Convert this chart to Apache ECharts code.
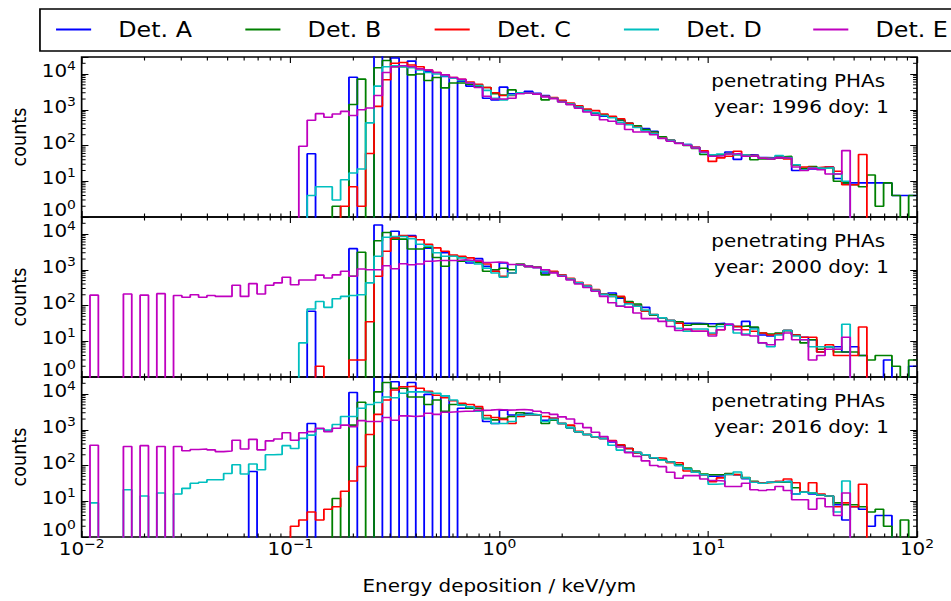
<!DOCTYPE html>
<html>
<head>
<meta charset="utf-8">
<script src="https://cdn.jsdelivr.net/npm/echarts@6/dist/echarts.min.js"></script>
<style>
html,body{margin:0;padding:0;background:#fff;overflow:hidden;width:951px;height:601px}
#chart{width:840px;height:601px;transform:scaleX(1.132143);transform-origin:0 0}
</style>
</head>
<body>
<div id="chart"></div>
<script>
// ---------------- data ----------------
const DETECTORS = ['Det. A', 'Det. B', 'Det. C', 'Det. D', 'Det. E'];
const COLORS = ['#0000ff', '#008000', '#ff0000', '#00bfbf', '#bf00bf'];
const YEARS = [1996, 2000, 2016];
const X_MIN = 0.01, X_MAX = 100;      // energy range (keV/ym)
const Y_MIN = 1, Y_MAX = 30000;       // counts range
const BINS_PER_DECADE = 25;           // log-spaced histogram bins
const X_LABEL = 'Energy deposition / keV/ym';
const Y_LABEL = 'counts';

// counts per bin, starting at bin index *_start (bins before are empty)
const y1996_A_start = 27;
const y1996_A = [59,0,0,0,0,8100,0,0,40000,0,28000,0,23000,0,12000,0,8500,0,6300,4600,4500,2100,1900,4300,2800,3000,3300,2900,2500,2100,1700,1450,1200,950,800,660,630,520,420,330,300,250,165,140,118,107,89,66,55,56,66,41,55,54,46,45,45,45,20,21,22,22,25,12,9,9,9,9,9,9,4,4,4];
const y1996_B_start = 30;
const y1996_B = [2,0,1400,7200,0,15000,24000,16000,16000,9500,10000,6600,8000,4100,5600,5600,5200,4600,4200,2800,2600,3600,3000,3000,2750,1900,2100,1700,1450,1200,1000,830,720,630,520,420,355,280,240,175,140,120,100,83,56,52,55,60,55,54,40,42,42,48,50,28,23,26,22,24,10,9,8,7,15,2,9,4,0,4];
const y1996_C_start = 31;
const y1996_C = [2,7,2,60,1250,6900,20000,21000,18000,16000,13000,11000,9500,8000,7100,6000,5200,4200,3000,2500,2500,3000,3000,2750,2400,2200,1850,1550,1300,1050,950,760,660,560,420,330,260,220,165,138,120,105,89,71,36,45,50,69,55,52,45,43,46,42,29,25,24,25,25,19,8,8,56];
const y1996_D_start = 27;
const y1996_D = [4,7,7,3,11,17,22,430,4600,16000,17000,16000,15000,13000,11000,10000,8900,7600,6600,5600,4800,3500,2100,1900,2600,3000,3000,2750,2350,2100,1700,1450,1200,950,830,690,600,450,380,320,260,215,160,138,118,107,87,63,55,58,58,55,54,50,44,44,52,46,29,21,24,23,24,16,10];
const y1996_E_start = 26;
const y1996_E = [95,510,780,620,760,900,690,1000,1120,2500,11000,16000,17000,16000,14000,13000,11000,9500,8000,7100,5600,4200,2400,2000,2000,2100,2800,2950,2750,2300,2050,1650,1380,1100,870,710,525,480,400,280,240,240,200,158,132,115,102,85,66,50,52,58,60,50,50,44,42,46,44,25,20,23,21,16,16,72];

const y2000_A_start = 27;
const y2000_A = [69,0,0,0,0,3900,0,0,18000,0,12000,0,9100,0,4000,0,3000,0,1740,1550,2050,1250,1000,1550,810,1380,1250,1180,810,870,690,550,430,350,260,205,225,160,118,102,89,54,45,38,32,32,32,31,31,32,30,26,36,24,15,14,16,20,15,13,11,5,7,7,5,7,4,0,0,3,0,0,2];
const y2000_B_start = 32;
const y2000_B = [660,3100,0,6500,11000,7200,7200,3800,3800,4300,2200,1260,2400,1740,1740,1600,910,1000,1100,1000,1450,1250,1180,720,870,690,560,430,350,265,210,200,170,130,110,70,54,45,38,35,28,30,30,26,30,28,26,27,25,17,16,17,20,15,9,11,6,7,5,5,5,4,3,4,4,2,0,3];
const y2000_C_start = 28;
const y2000_C = [2,0,0,0,3,3,35,660,3300,7800,9100,8500,6900,5200,4100,3300,2600,2400,2150,1740,1450,910,660,810,1380,1250,1180,1000,900,720,580,450,370,280,210,180,180,120,96,70,56,45,38,32,21,19,19,16,21,29,26,21,19,17,15,16,20,15,13,13,5,8,4,4,4,25];
const y2000_D_start = 26;
const y2000_D = [9,80,130,89,155,180,190,200,430,2400,8100,8500,8500,7400,5200,4600,3000,2400,2400,2150,1740,1450,1100,810,620,810,1380,1250,1150,900,840,690,550,430,350,265,205,180,96,110,95,75,56,45,38,23,19,22,22,17,26,28,17,16,22,9,7,15,20,14,11,7,7,7,6,30];
const y2000_E_start = 1;
const y2000_E = [195,0,0,0,210,0,195,0,215,0,190,170,200,170,190,180,180,370,180,410,210,370,430,620,380,520,520,710,590,720,910,660,1050,1000,1000,1300,1070,1480,1380,1450,1740,1820,1820,1820,1900,1820,1820,1600,1650,1600,1400,1400,1250,1150,1000,820,660,520,400,320,250,180,120,95,90,62,43,43,36,26,20,22,19,19,14,21,30,21,15,14,9,8,11,17,11,11,3,4,6,6,13];

const y2016_A_start = 20;
const y2016_A = [68,0,0,0,0,0,0,1500,0,0,0,0,11000,0,0,40000,0,22000,0,21000,0,9800,0,9000,0,4000,4000,4000,1700,1500,3550,2600,2700,2900,2600,1850,2100,1500,1150,880,740,640,570,460,370,300,230,200,160,140,125,100,81,65,55,50,52,58,55,43,34,32,34,35,36,16,18,16,15,14,8,3,7,6,2,4,4,0,0,0];
const y2016_B_start = 30;
const y2016_B = [12,0,1350,5900,0,11500,21000,14500,14500,8300,8300,5100,6800,3300,5100,4900,4000,3900,2100,1900,2100,2350,3000,2700,2600,1500,1850,1500,1150,880,740,640,570,480,380,300,230,200,165,145,125,105,85,70,58,55,56,60,56,46,36,33,34,34,35,24,18,17,15,14,9,8,8,7,5,6,2,0,3,0];
const y2016_C_start = 25;
const y2016_C = [2,3,5,3,6,7,19,37,94,740,2700,6800,13000,16000,16500,14500,12000,9300,7900,6500,5500,5100,4500,2500,2200,1950,1500,2350,2600,2600,2350,2100,1500,1350,900,740,640,570,500,380,300,230,200,165,160,120,120,70,65,55,35,45,56,55,45,35,33,34,36,42,33,18,33,16,14,7,9,7,30];
const y2016_D_start = 1;
const y2016_D = [9,0,0,0,21,0,14,0,17,0,16,23,32,34,40,40,60,105,58,110,76,200,205,360,300,575,710,1050,980,1400,2350,2350,4000,5100,5800,8300,7900,10500,11500,11500,11000,10500,8900,6800,4900,4400,3300,2000,1500,1500,1700,2600,2700,2600,1700,1950,1500,1150,880,740,640,570,370,270,240,230,200,165,140,125,100,80,65,55,30,31,56,66,45,34,32,34,35,36,16,18,17,15,14,5,37];
const y2016_E_start = 1;
const y2016_E = [370,0,0,0,340,0,360,0,340,0,340,260,280,290,275,245,255,510,290,540,275,490,550,830,510,830,890,1100,890,1100,1350,1230,1800,1700,1700,2200,1850,2450,2350,2450,2900,2700,3100,3200,3300,3300,3500,3550,3700,3550,3600,3700,3550,3300,3000,2700,2300,2000,1500,1150,850,650,480,330,230,180,135,100,93,65,44,52,52,42,38,37,26,26,32,21,20,21,26,20,11,11,6,12,7,4,17];

const PANELS = [
  {year: 1996, sets: [[y1996_A_start, y1996_A],[y1996_B_start, y1996_B],[y1996_C_start, y1996_C],[y1996_D_start, y1996_D],[y1996_E_start, y1996_E]]},
  {year: 2000, sets: [[y2000_A_start, y2000_A],[y2000_B_start, y2000_B],[y2000_C_start, y2000_C],[y2000_D_start, y2000_D],[y2000_E_start, y2000_E]]},
  {year: 2016, sets: [[y2016_A_start, y2016_A],[y2016_B_start, y2016_B],[y2016_C_start, y2016_C],[y2016_D_start, y2016_D],[y2016_E_start, y2016_E]]}
];

// ---------------- layout ----------------
const FONT = 'DejaVu Sans';
const SX = 951 / 840;                  // reference is horizontally stretched
const GRID_LEFT = 79.5 / SX;
const GRID_RIGHT = 840 - 917 / SX;
const GRID_TOPS = [57, 217, 377];
const GRID_H = 160;
const FLOOR = 1e-3;                    // empty bins drawn below the axis (clipped)

const dLo = Math.log10(X_MIN), dHi = Math.log10(X_MAX);
const NBINS = Math.round((dHi - dLo) * BINS_PER_DECADE);
const edges = [];
for (let i = 0; i <= NBINS; i++) edges.push(Math.pow(10, dLo + i / BINS_PER_DECADE));

function toSteps(start, counts) {
  const full = new Array(NBINS).fill(0);
  counts.forEach((c, k) => { if (start + k < NBINS) full[start + k] = c; });
  const pts = full.map((c, i) => [edges[i], c > 0 ? c : FLOOR]);
  pts.push([edges[NBINS], full[NBINS - 1] > 0 ? full[NBINS - 1] : FLOOR]);
  return pts;
}

function expOf(v) {
  const e = Math.log10(v), r = Math.round(e);
  return Math.abs(e - r) > 1e-6 ? null : r;
}
function xLabel(v) {
  const r = expOf(v);
  if (r === null) return '';
  return '{b|10}{s|' + (r < 0 ? '\u2212' + (-r) : '' + r) + '}';
}
function yLabel(v) {
  const r = expOf(v);
  if (r === null) return '';
  // the lowest label sits a little higher so it clears the panel below
  return r === 0 ? '{b0|10}{s0|0}' : '{b|10}{s|' + r + '}';
}
const RICH = {
  b: {fontSize: 17.6, fontFamily: FONT, color: '#000', verticalAlign: 'bottom', lineHeight: 12},
  s: {fontSize: 12.3, fontFamily: FONT, color: '#000', verticalAlign: 'bottom', lineHeight: 9, padding: [0, 0, 8, 0]},
  b0: {fontSize: 17.6, fontFamily: FONT, color: '#000', verticalAlign: 'bottom', lineHeight: 12, padding: [0, 0, 4, 0]},
  s0: {fontSize: 12.3, fontFamily: FONT, color: '#000', verticalAlign: 'bottom', lineHeight: 9, padding: [0, 0, 12, 0]}
};

const xAxes = [], yAxes = [], grids = [], series = [], graphics = [];
GRID_TOPS.forEach((t, g) => {
  grids.push({left: GRID_LEFT, right: GRID_RIGHT, top: t, height: GRID_H, show: true,
    borderColor: '#000', borderWidth: 1.5, backgroundColor: 'transparent'});
});
const tick = {inside: true, length: 6, lineStyle: {color: '#000', width: 1}};
for (let k = 0; k < 2; k++) {
  GRID_TOPS.forEach((t, g) => {
    const main = k === 0;
    const showLab = main && g === 2;
    xAxes.push({type: 'log', logBase: 10, gridIndex: g, position: main ? 'bottom' : 'top',
      min: X_MIN, max: X_MAX, axisLine: {show: false}, splitLine: {show: false}, axisTick: tick,
      axisLabel: {show: showLab, margin: 9, formatter: xLabel, rich: RICH},
      name: showLab ? X_LABEL : '', nameLocation: 'middle', nameGap: 40,
      nameTextStyle: {fontSize: 17.6, fontFamily: FONT, color: '#000'}});
    yAxes.push({type: 'log', logBase: 10, gridIndex: g, position: main ? 'left' : 'right',
      min: Y_MIN, max: Y_MAX, axisLine: {show: false}, splitLine: {show: false}, axisTick: tick,
      axisLabel: {show: main, margin: 5, formatter: yLabel, rich: RICH, align: 'right'},
      name: main ? Y_LABEL : '', nameLocation: 'middle', nameGap: 41, nameRotate: 90,
      nameTextStyle: {fontSize: 17.6, fontFamily: FONT, color: '#000'}});
  });
}

// minor tick positions (2..9 x 10^n)
const minorData = [];
for (let e = Math.round(dLo); e < Math.round(dHi); e++)
  for (let m = 2; m <= 9; m++) minorData.push([m * Math.pow(10, e), 1, 0]);
for (let e = 0; e <= 4; e++)
  for (let m = 2; m <= 9; m++) { const v = m * Math.pow(10, e); if (v < Y_MAX) minorData.push([1, v, 1]); }

PANELS.forEach((p, g) => {
  p.sets.forEach(([start, counts], d) => {
    series.push({type: 'line', name: DETECTORS[d], xAxisIndex: g, yAxisIndex: g,
      step: 'end', symbol: 'none', showSymbol: false, clip: true, animation: false,
      lineStyle: {color: COLORS[d], width: 1.6}, itemStyle: {color: COLORS[d]},
      emphasis: {disabled: true}, data: toSteps(start, counts), z: 2 + d * 0.01});
  });
  series.push({type: 'custom', xAxisIndex: g, yAxisIndex: g, silent: true, animation: false, z: 5,
    encode: {x: 0, y: 1}, data: minorData,
    renderItem: function (params, api) {
      const cs = params.coordSys;
      const L = 3.5;
      const st = {stroke: '#000', lineWidth: 1};
      if (api.value(2) === 0) {
        const px = api.coord([api.value(0), 1])[0];
        return {type: 'group', children: [
          {type: 'line', shape: {x1: px, y1: cs.y + cs.height, x2: px, y2: cs.y + cs.height - L}, style: st},
          {type: 'line', shape: {x1: px, y1: cs.y, x2: px, y2: cs.y + L}, style: st}]};
      }
      const py = api.coord([1, api.value(1)])[1];
      return {type: 'group', children: [
        {type: 'line', shape: {x1: cs.x, y1: py, x2: cs.x + L, y2: py}, style: st},
        {type: 'line', shape: {x1: cs.x + cs.width, y1: py, x2: cs.x + cs.width - L, y2: py}, style: st}]};
    }});
  const textStyle = {fill: '#000', fontSize: 17.6, fontFamily: FONT, align: 'center', verticalAlign: 'middle',
    textAlign: 'center', textVerticalAlign: 'middle'};
  graphics.push({type: 'text', x: 705, y: GRID_TOPS[g] + 24,
    style: Object.assign({text: 'penetrating PHAs'}, textStyle)});
  graphics.push({type: 'text', x: 708, y: GRID_TOPS[g] + 49.5,
    style: Object.assign({text: 'year: ' + p.year + ' doy: 1'}, textStyle)});
});

// legend frame
graphics.push({type: 'rect', shape: {x: 35.3, y: 9, width: 900, height: 42},
  style: {fill: 'none', stroke: '#000', lineWidth: 1.5}, z: 0});

const legends = DETECTORS.map((n, i) => ({
  data: [n], left: 49.5 + 167.2 * i, top: 19, padding: 0, itemWidth: 31, itemHeight: 14,
  selectedMode: false, icon: 'path://M0,6 L31,6 L31,8 L0,8 Z',
  itemStyle: {color: COLORS[i]},
  textStyle: {fontSize: 21, fontFamily: FONT, color: '#000', padding: [0, 0, 0, 19]}
}));

const chart = echarts.init(document.getElementById('chart'), null, {renderer: 'svg'});
chart.setOption({
  animation: false,
  backgroundColor: '#fff',
  textStyle: {fontFamily: FONT},
  grid: grids, xAxis: xAxes, yAxis: yAxes,
  legend: legends,
  series: series,
  graphic: graphics
});
</script>
</body>
</html>
